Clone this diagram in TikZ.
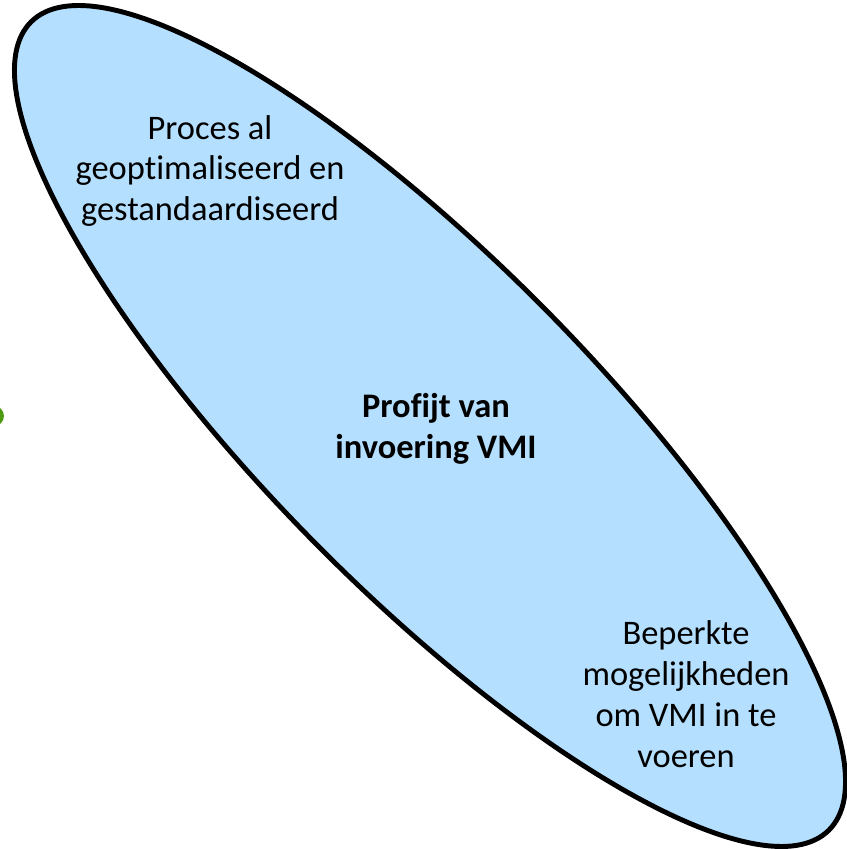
\documentclass[tikz,border=0pt]{standalone}
\usepackage{fontspec}
\setmainfont[Ligatures=NoCommon]{Carlito}
\usepackage{xcolor}
\usepackage{tikz}
\definecolor{bubble}{HTML}{B4DFFE}
\definecolor{leaf}{HTML}{4E9A12}
\tikzset{
  rim/.style={draw=black, fill=bubble, line width=2.8pt},
  txt/.style={align=center, inner sep=0pt, font=\fontsize{19.6}{23.3}\selectfont},
  bold/.style={txt, font=\fontsize{19.6}{23.3}\selectfont\bfseries},
}

\begin{document}
\begin{tikzpicture}[x=0.02cm,y=0.02cm]
  \useasboundingbox (0,0) rectangle (846,849);
  \coordinate (C) at (430,423);

  % green dot cut at the left edge
  \fill[leaf] (-6,433) circle (10);

  \draw[rim] (C) ellipse [x radius=11.36cm, y radius=3.28cm, rotate=-45.4];

  \node[txt] (proces) at (210,678) {Proces al\\geoptimaliseerd en\\gestandaardiseerd};
  \node[bold] (profijt) at (436,420) {Profijt van\\invoering VMI};
  \node[txt] (beperkt) at (686,155) {Beperkte\\mogelijkheden\\om VMI in te\\voeren};
\end{tikzpicture}
\end{document}
